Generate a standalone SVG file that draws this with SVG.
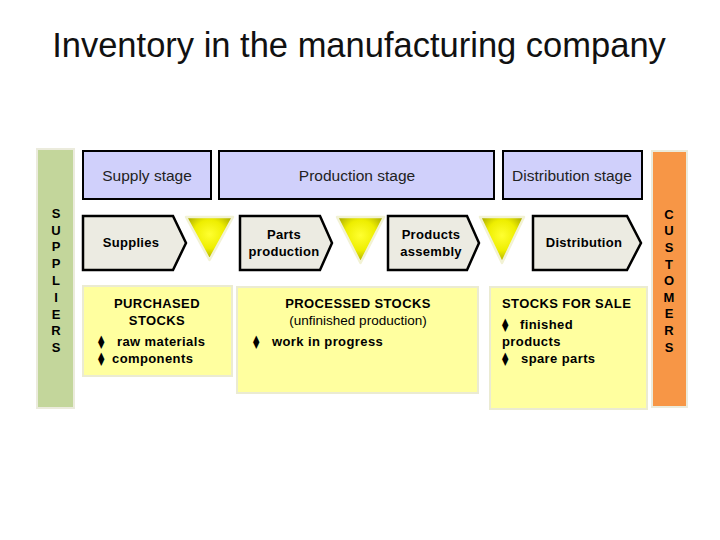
<svg xmlns="http://www.w3.org/2000/svg" width="720" height="540" viewBox="0 0 720 540">
<style>
text{font-family:"Liberation Sans",Arial,sans-serif;fill:#000}
.title{font-size:34.5px;text-anchor:middle;fill:#111}
.stage{fill:#d0d0fb;stroke:#000;stroke-width:2}
.stxt{font-size:15.5px;text-anchor:middle;fill:#222}
.chev{fill:#ecebe2;stroke:#000;stroke-width:2.5;stroke-linejoin:miter}
.ctxt{font-size:13px;font-weight:bold;text-anchor:middle;letter-spacing:0.3px}
.tri{fill:url(#tg);stroke:#f2f2d4;stroke-width:2.5;stroke-linejoin:round}
.stock{fill:#ffff9f;stroke:#ebebd2;stroke-width:2}
.b{font-size:13px;font-weight:bold;letter-spacing:0.4px}
.r{font-size:13.5px}
.mid{text-anchor:middle}
.bul{font-family:"DejaVu Sans",sans-serif;font-size:13px;letter-spacing:0}
.side{font-size:13px;font-weight:bold;text-anchor:middle}
</style>
<defs>
<radialGradient id="tg" cx="50%" cy="40%" r="60%">
<stop offset="0" stop-color="#ffff30"/>
<stop offset="0.55" stop-color="#eeee00"/>
<stop offset="1" stop-color="#a8a800"/>
</radialGradient>
</defs>
<rect width="720" height="540" fill="#fff"/>
<text class="title" x="359" y="57">Inventory in the manufacturing company</text>

<g id="suppliers">
<rect x="37" y="149" width="37" height="259" fill="#c3d69b" stroke="#ebebdc" stroke-width="2"/>
<text class="side" x="56" y="218">S</text>
<text class="side" x="56" y="235">U</text>
<text class="side" x="56" y="251">P</text>
<text class="side" x="56" y="268">P</text>
<text class="side" x="56" y="285">L</text>
<text class="side" x="56" y="302">I</text>
<text class="side" x="56" y="319">E</text>
<text class="side" x="56" y="335">R</text>
<text class="side" x="56" y="352">S</text>
</g>

<g id="customers">
<rect x="652" y="151" width="35" height="256" fill="#f79646" stroke="#ebebdc" stroke-width="2"/>
<text class="side" x="669" y="219">C</text>
<text class="side" x="669" y="235">U</text>
<text class="side" x="669" y="252">S</text>
<text class="side" x="669" y="269">T</text>
<text class="side" x="669" y="285">O</text>
<text class="side" x="669" y="302">M</text>
<text class="side" x="669" y="318">E</text>
<text class="side" x="669" y="335">R</text>
<text class="side" x="669" y="352">S</text>
</g>

<g id="supply-stage">
<rect class="stage" x="83" y="151" width="128" height="48"/>
<text class="stxt" x="147" y="181">Supply stage</text>
</g>
<g id="production-stage">
<rect class="stage" x="219" y="151" width="275" height="48"/>
<text class="stxt" x="357" y="181">Production stage</text>
</g>
<g id="distribution-stage">
<rect class="stage" x="503" y="151" width="139" height="48"/>
<text class="stxt" x="572" y="181">Distribution stage</text>
</g>

<g id="supplies">
<path class="chev" d="M83,216 H173 L186,243 L173,270 H83 Z"/>
<text class="ctxt" x="131" y="247">Supplies</text>
</g>
<g id="parts-production">
<path class="chev" d="M240,216 H320 L332,243 L320,270 H240 Z"/>
<text class="ctxt" x="284" y="239">Parts</text>
<text class="ctxt" x="284" y="256">production</text>
</g>
<g id="products-assembly">
<path class="chev" d="M388,216 H467 L479,243 L467,270 H388 Z"/>
<text class="ctxt" x="431" y="239">Products</text>
<text class="ctxt" x="431" y="256">assembly</text>
</g>
<g id="distribution">
<path class="chev" d="M533,216 H627 L641,243 L627,270 H533 Z"/>
<text class="ctxt" x="584" y="247">Distribution</text>
</g>

<g id="connectors">
<path class="tri" d="M186,217 H233 L209.5,260 Z"/>
<path class="tri" d="M337,217 H384 L360.5,263 Z"/>
<path class="tri" d="M480,217 H524 L502,263 Z"/>
</g>

<g id="purchased-stocks">
<rect class="stock" x="83" y="286" width="149" height="90"/>
<text class="b mid" x="157" y="308">PURCHASED</text>
<text class="b mid" x="157" y="325">STOCKS</text>
<text class="b" x="98" y="346"><tspan class="bul">⧫</tspan><tspan x="117">raw materials</tspan></text>
<text class="b" x="98" y="363"><tspan class="bul">⧫</tspan><tspan x="112">components</tspan></text>
</g>

<g id="processed-stocks">
<rect class="stock" x="237" y="287" width="241" height="106"/>
<text class="b mid" x="358" y="308">PROCESSED STOCKS</text>
<text class="r mid" x="358" y="325">(unfinished production)</text>
<text class="b" x="253" y="346"><tspan class="bul">⧫</tspan><tspan x="272">work in progress</tspan></text>
</g>

<g id="stocks-for-sale">
<rect class="stock" x="490" y="287" width="157" height="122"/>
<text class="b" x="502" y="308">STOCKS FOR SALE</text>
<text class="b" x="502" y="329"><tspan class="bul">⧫</tspan><tspan x="520">finished</tspan></text>
<text class="b" x="502" y="346">products</text>
<text class="b" x="502" y="363"><tspan class="bul">⧫</tspan><tspan x="521">spare parts</tspan></text>
</g>
</svg>
